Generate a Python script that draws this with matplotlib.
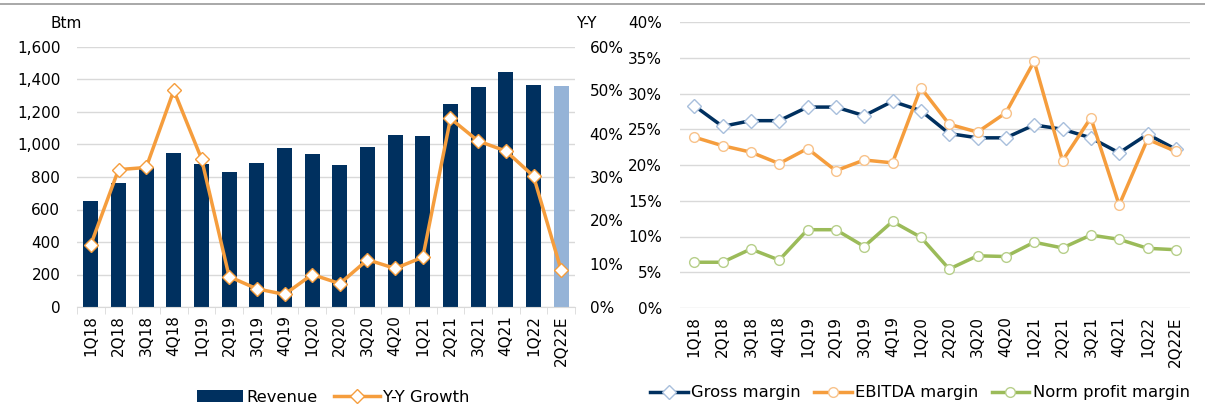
import matplotlib
matplotlib.use("Agg")
import matplotlib.pyplot as plt
from matplotlib.ticker import FuncFormatter, MultipleLocator
import numpy as np

quarters = ["1Q18", "2Q18", "3Q18", "4Q18", "1Q19", "2Q19", "3Q19", "4Q19", "1Q20",
            "2Q20", "3Q20", "4Q20", "1Q21", "2Q21", "3Q21", "4Q21", "1Q22", "2Q22E"]
revenue = [654, 763, 855, 950, 882, 833, 888, 978, 944,
           876, 985, 1061, 1052, 1252, 1356, 1446, 1368, 1360]
yy_growth = [14.4, 31.7, 32.2, 50.0, 34.2, 7.0, 4.2, 2.9, 7.5,
             5.4, 10.9, 8.9, 11.5, 43.5, 38.3, 36.0, 30.2, 8.5]
gross_margin = [28.3, 25.4, 26.2, 26.2, 28.1, 28.1, 26.9, 28.9, 27.6,
                24.4, 23.8, 23.8, 25.6, 25.0, 23.8, 21.7, 24.3, 22.2]
ebitda_margin = [23.9, 22.7, 21.8, 20.2, 22.3, 19.2, 20.7, 20.3, 30.8,
                 25.7, 24.6, 27.3, 34.5, 20.6, 26.6, 14.4, 23.6, 21.9]
norm_profit_margin = [6.4, 6.4, 8.25, 6.7, 10.95, 10.95, 8.6, 12.1, 9.9,
                      5.45, 7.3, 7.2, 9.2, 8.4, 10.2, 9.6, 8.35, 8.15]

NAVY = "#00305f"
LIGHT = "#95b3d7"
ORANGE = "#f59d3d"
GREEN = "#9bbb59"
GRID = "#d9d9d9"
FS = 11
LFS = 11.8

plt.rcParams["font.family"] = ["DejaVu Sans"]

W, H = 1205, 409
fig = plt.figure(figsize=(W / 100, H / 100), dpi=100)

# top border line
fig.add_artist(plt.Line2D([0, 1], [1 - 4 / H, 1 - 4 / H], color="#999999", lw=1.2))

# ---------- left chart ----------
ax = fig.add_axes([77 / W, 1 - 307 / H, (575 - 77) / W, 260 / H])
x = np.arange(len(quarters))
colors = [NAVY] * (len(quarters) - 1) + [LIGHT]
bars = ax.bar(x, revenue, width=0.55, color=colors, zorder=2, label="Revenue")
ax.set_xlim(-0.5, len(quarters) - 0.5)
ax.set_ylim(0, 1600)
ax.yaxis.set_major_locator(MultipleLocator(200))
ax.yaxis.set_major_formatter(FuncFormatter(lambda v, p: f"{int(v):,}"))
ax.grid(axis="y", color=GRID, lw=1, zorder=0)
for s in ["top", "right", "left"]:
    ax.spines[s].set_visible(False)
ax.spines["bottom"].set_color(GRID)
ax.tick_params(axis="y", length=0, labelsize=FS, pad=12)
ax.set_xticks(x)
ax.set_xticklabels(quarters, rotation=90, fontsize=FS)
ax.tick_params(axis="x", length=0, pad=6)
ax.set_xticks(np.arange(-0.5, len(quarters), 1), minor=True)
ax.tick_params(axis="x", which="minor", length=5, color=GRID)

ax2 = ax.twinx()
ln, = ax2.plot(x, yy_growth, color=ORANGE, lw=2.5, marker="D", ms=7,
               mfc="white", mec=ORANGE, mew=1, zorder=3, label="Y-Y Growth")
ax2.set_ylim(0, 60)
ax2.yaxis.set_major_locator(MultipleLocator(10))
ax2.yaxis.set_major_formatter(FuncFormatter(lambda v, p: f"{int(v)}%"))
for s in ["top", "right", "left", "bottom"]:
    ax2.spines[s].set_visible(False)
ax2.tick_params(axis="y", length=0, labelsize=FS, pad=10.5)

fig.text(66 / W, 1 - 23 / H, "Btm", fontsize=FS, ha="center", va="center")
fig.text(586 / W, 1 - 23 / H, "Y-Y", fontsize=FS, ha="center", va="center")

fig.legend(handles=[bars, ln], labels=["Revenue", "Y-Y Growth"],
           loc="center", bbox_to_anchor=(333 / W, 1 - 397 / H), ncol=2,
           frameon=False, fontsize=LFS, handlelength=2.8, handletextpad=0.2,
           columnspacing=1.0)

# ---------- right chart ----------
bx = fig.add_axes([680 / W, 1 - 308 / H, (1190 - 680) / W, 286 / H])
bx.plot(x, gross_margin, color=NAVY, lw=2.5, marker="D", ms=7,
        mfc="white", mec="#a8bfdc", mew=1, zorder=3, label="Gross margin")
bx.plot(x, ebitda_margin, color=ORANGE, lw=2.5, marker="o", ms=7,
        mfc="white", mec="#f8c28a", mew=1, zorder=3, label="EBITDA margin")
bx.plot(x, norm_profit_margin, color=GREEN, lw=2.5, marker="o", ms=7,
        mfc="white", mec="#b7cf8a", mew=1, zorder=3, label="Norm profit margin")
bx.set_xlim(-0.5, len(quarters) - 0.5)
bx.set_ylim(0, 40)
bx.yaxis.set_major_locator(MultipleLocator(5))
bx.yaxis.set_major_formatter(FuncFormatter(lambda v, p: f"{int(v)}%"))
bx.grid(axis="y", color=GRID, lw=1, zorder=0)
for s in ["top", "right", "left", "bottom"]:
    bx.spines[s].set_visible(False)
bx.tick_params(axis="y", length=0, labelsize=FS, pad=13)
bx.set_xticks(x)
bx.set_xticklabels(quarters, rotation=90, fontsize=FS)
bx.tick_params(axis="x", length=0, pad=6)

fig.legend(handles=bx.get_lines(), loc="center", bbox_to_anchor=(920 / W, 1 - 393 / H),
           ncol=3, frameon=False, fontsize=LFS, handlelength=2.3, handletextpad=0.2,
           columnspacing=0.8)

fig.savefig("out.png", dpi=100)
